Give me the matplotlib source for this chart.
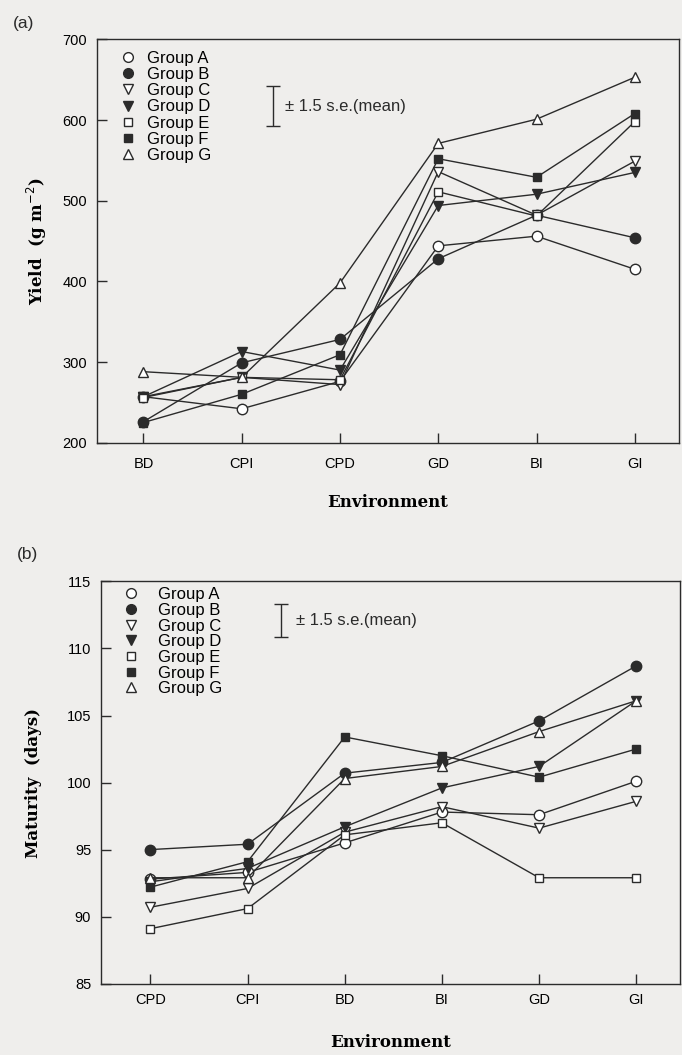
import numpy as np
import matplotlib
matplotlib.use("Agg")
from matplotlib import pyplot as plt
from matplotlib.lines import Line2D

# ---------- data (a) yield ----------
env_a = ["BD", "CPI", "CPD", "GD", "BI", "GI"]
yield_A = [257, 242, 276, 444, 456, 415]
yield_B = [226, 299, 328, 428, 482, 454]
yield_C = [257, 281, 272, 536, 482, 549]
yield_D = [257, 313, 290, 494, 508, 535]
yield_E = [256, 281, 278, 511, 481, 598]
yield_F = [225, 260, 309, 552, 529, 608]
yield_G = [288, 281, 398, 571, 601, 653]

# ---------- data (b) maturity ----------
env_b = ["CPD", "CPI", "BD", "BI", "GD", "GI"]
mat_A = [92.8, 93.3, 95.5, 97.8, 97.6, 100.1]
mat_B = [95.0, 95.4, 100.7, 101.5, 104.6, 108.7]
mat_C = [90.7, 92.1, 96.3, 98.2, 96.6, 98.6]
mat_D = [92.6, 93.6, 96.7, 99.6, 101.2, 106.1]
mat_E = [89.1, 90.6, 96.1, 97.0, 92.9, 92.9]
mat_F = [92.2, 94.1, 103.4, 102.0, 100.4, 102.5]
mat_G = [92.9, 92.9, 100.3, 101.2, 103.8, 106.1]

groups = ["Group A", "Group B", "Group C", "Group D", "Group E", "Group F", "Group G"]
se_yield = 24.8   # 1.5 s.e.(mean), half length
se_mat = 1.23

# marker styles for the groups: (marker, filled)
styles = [("o", False), ("o", True), ("v", False), ("v", True),
          ("s", False), ("s", True), ("^", False)]

ink = "#2b2b2b"
paper = "#efeeec"
sans = "Liberation Sans"
serif = "DejaVu Serif"

fig = plt.figure(figsize=(6.82, 10.55), dpi=100, facecolor=paper)
ax1 = fig.add_axes([0.1422, 0.5804, 0.8534, 0.3823])
ax2 = fig.add_axes([0.148, 0.0676, 0.849, 0.3813])


def msize(m):
    return 6.3 if m == "s" else 7.5


def draw(ax, series, labels, xpad):
    x = np.arange(len(labels))
    for vals, name, (m, filled) in zip(series, groups, styles):
        ax.plot(x, vals, color=ink, lw=1.0, marker=m, ms=msize(m),
                mfc=ink if filled else "white", mec=ink, mew=1.0, zorder=3)
    ax.set_facecolor(paper)
    ax.set_xticks(x)
    ax.set_xticklabels(labels, fontfamily=sans, fontsize=10.5)
    ax.tick_params(direction="in", length=7, width=1, color=ink, pad=7)
    ax.tick_params(axis="x", pad=xpad)
    for s in ax.spines.values():
        s.set_color(ink)
        s.set_linewidth(1.0)
    # legend: markers only
    hh = [Line2D([], [], ls="none", marker=m, ms=msize(m) - 0.5, mec=ink, mew=1.0,
                 mfc=ink if filled else "white") for m, filled in styles]
    return hh


#//////// (a) yield ////////
h = draw(ax1, [yield_A, yield_B, yield_C, yield_D, yield_E, yield_F, yield_G], env_a, 10)
ax1.set_xlim(-0.473, 5.45)
ax1.set_ylim(200, 700)
ax1.set_yticks([200, 300, 400, 500, 600, 700])
ax1.set_yticklabels(["200", "300", "400", "500", "600", "700"], fontfamily=sans, fontsize=10.5)
ax1.set_xlabel("Environment", fontfamily=serif, fontweight="bold", fontsize=12, labelpad=17)
ax1.set_ylabel("Yield  (g m$^{-2}$)", fontfamily=serif, fontweight="bold", fontsize=12, labelpad=10)
ax1.errorbar([1.32], [617], yerr=[se_yield], color=ink, lw=1.0, capsize=5, capthick=1.0)
ax1.text(1.44, 617, "± 1.5 s.e.(mean)", fontfamily=sans, fontsize=12, va="center", color=ink)
ax1.legend(h, groups, loc="upper left", frameon=False, prop={"family": sans, "size": 12},
           handlelength=0.6, handletextpad=0.84, labelspacing=0.075,
           borderpad=0, borderaxespad=0, bbox_to_anchor=(0.0447, 0.972))
fig.text(0.019, 0.978, "(a)", fontfamily=sans, fontsize=12.5, va="center", color=ink)

#//////// (b) maturity ////////
h = draw(ax2, [mat_A, mat_B, mat_C, mat_D, mat_E, mat_F, mat_G], env_b, 7)
ax2.set_xlim(-0.509, 5.45)
ax2.set_ylim(85, 115)
ax2.set_yticks([85, 90, 95, 100, 105, 110, 115])
ax2.set_yticklabels(["85", "90", "95", "100", "105", "110", "115"], fontfamily=sans, fontsize=10.5)
ax2.set_xlabel("Environment", fontfamily=serif, fontweight="bold", fontsize=12, labelpad=19)
ax2.set_ylabel("Maturity  (days)", fontfamily=serif, fontweight="bold", fontsize=12, labelpad=18)
ax2.errorbar([1.34], [112.1], yerr=[se_mat], color=ink, lw=1.0, capsize=5, capthick=1.0)
ax2.text(1.5, 112.1, "± 1.5 s.e.(mean)", fontfamily=sans, fontsize=12, va="center", color=ink)
ax2.legend(h, groups, loc="upper left", frameon=False, prop={"family": sans, "size": 12},
           handlelength=0.6, handletextpad=1.29, labelspacing=0.04,
           borderpad=0, borderaxespad=0, bbox_to_anchor=(0.044, 0.9856))
fig.text(0.025, 0.474, "(b)", fontfamily=sans, fontsize=12.5, va="center", color=ink)

fig.savefig("out.png", dpi=100, facecolor=paper)
